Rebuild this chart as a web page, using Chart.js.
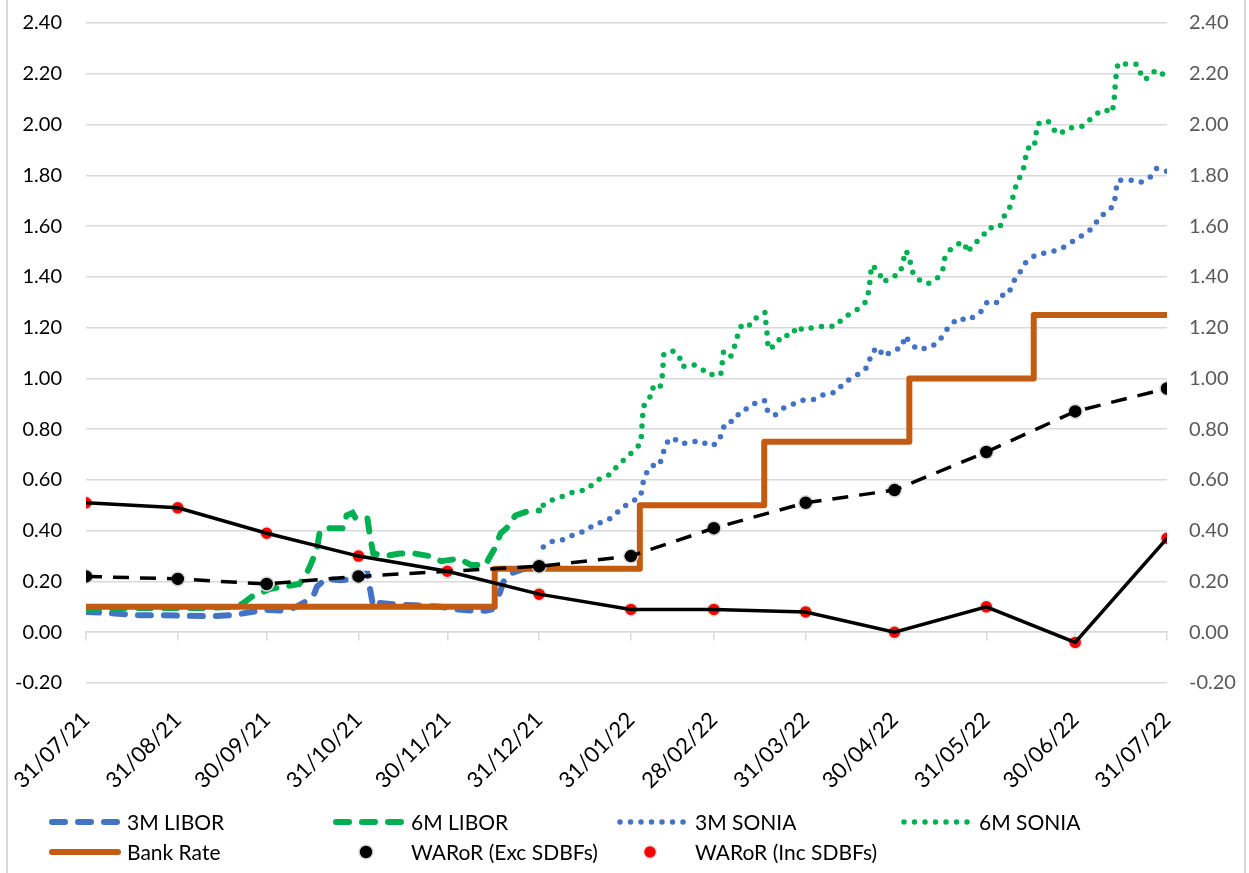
<!DOCTYPE html>
<html>
<head>
<meta charset="utf-8">
<title>Rates</title>
<script src="https://cdn.jsdelivr.net/npm/chart.js@4.4.1/dist/chart.umd.min.js"></script>
<style>
  html, body { margin: 0; padding: 0; background: #fff; }
  #wrap { position: relative; width: 1249px; height: 873px; }
  #frame {
    position: absolute; left: 6px; top: 0; width: 1240px; height: 873px;
    border-left: 2px solid #d9d9d9; border-right: 2px solid #d9d9d9;
    box-sizing: border-box; pointer-events: none;
  }
</style>
</head>
<body>
<div id="wrap">
  <canvas id="rateChart" width="1249" height="873"></canvas>
  <div id="frame"></div>
</div>
<script>
// x values are days counted from 31/07/21
const monthEndDays = [0, 31, 61, 92, 122, 153, 184, 212, 243, 273, 304, 334, 365];
const monthLabels = ["31/07/21", "31/08/21", "30/09/21", "31/10/21", "30/11/21", "31/12/21",
  "31/01/22", "28/02/22", "31/03/22", "30/04/22", "31/05/22", "30/06/22", "31/07/22"];

const libor3mDays = [0, 8, 14, 18, 25, 33, 42, 50, 57, 61, 67, 71, 74, 77, 78, 81, 86, 91, 93, 95,
  97, 99, 104, 111, 120, 125, 130, 135, 137, 139, 141, 143, 148, 153];
const libor3mRates = [0.08, 0.075, 0.07, 0.067, 0.067, 0.065, 0.063, 0.068, 0.082, 0.088,
  0.085, 0.10, 0.12, 0.15, 0.18, 0.21, 0.205, 0.21, 0.23, 0.23,
  0.10, 0.115, 0.11, 0.106, 0.10, 0.09, 0.085, 0.085, 0.09, 0.13, 0.20, 0.23, 0.25, 0.25];

const libor6mDays = [0, 11, 25, 38, 50, 53, 56, 62, 67, 72, 74, 76, 78, 79, 82, 87, 88, 90, 91, 95,
  96, 97, 101, 106, 111, 116, 120, 123, 126, 130, 135, 136, 138, 140, 142, 145, 150, 153];
const libor6mRates = [0.09, 0.095, 0.095, 0.095, 0.10, 0.114, 0.14, 0.17, 0.18, 0.19,
  0.22, 0.27, 0.33, 0.40, 0.41, 0.41, 0.46, 0.47, 0.45, 0.45,
  0.37, 0.31, 0.30, 0.31, 0.31, 0.30, 0.28, 0.285, 0.29, 0.265,
  0.265, 0.29, 0.33, 0.39, 0.41, 0.46, 0.48, 0.48];

const sonia3mDays = [154.4, 157.6, 161.4, 164.9, 168.8, 171.8, 175.0, 178.3, 180.9, 184.0,
  187.3, 188.0, 189.0, 191.0, 193.5, 194.7, 195.7, 198.0, 201.0, 204.5,
  207.4, 210.7, 213.3, 214.8, 215.7, 218.9, 221.1, 223.9, 226.6, 229.3,
  230.3, 232.7, 235.9, 239.4, 241.8, 246.0, 249.5, 253.4, 255.9, 259.0,
  262.0, 264.3, 265.0, 267.3, 269.4, 272.3, 275.5, 276.5, 278.2, 280.7,
  284.6, 287.9, 289.9, 292.4, 295.2, 297.0, 299.6, 302.3, 304.4, 308.1,
  309.9, 311.6, 313.2, 315.3, 317.0, 318.9, 321.0, 324.5, 328.2, 331.4,
  334.3, 337.4, 340.2, 342.2, 345.3, 347.3, 347.6, 348.6, 352.6, 355.9,
  359.1, 361.5, 365.0];
const sonia3mRates = [0.336, 0.359, 0.365, 0.386, 0.399, 0.427, 0.435, 0.457, 0.491, 0.511,
  0.536, 0.585, 0.623, 0.657, 0.655, 0.697, 0.742, 0.767, 0.742, 0.75,
  0.754, 0.733, 0.745, 0.786, 0.824, 0.833, 0.874, 0.882, 0.909, 0.912,
  0.864, 0.856, 0.886, 0.901, 0.914, 0.917, 0.939, 0.946, 0.983, 1.004,
  1.025, 1.051, 1.098, 1.123, 1.086, 1.109, 1.122, 1.168, 1.143, 1.114,
  1.12, 1.143, 1.182, 1.217, 1.239, 1.227, 1.241, 1.265, 1.303, 1.298,
  1.335, 1.337, 1.382, 1.417, 1.453, 1.473, 1.488, 1.496, 1.505, 1.525,
  1.549, 1.57, 1.596, 1.637, 1.659, 1.689, 1.737, 1.781, 1.781, 1.771,
  1.789, 1.827, 1.816];

const sonia6mDays = [154.4, 157.2, 161.1, 164.9, 168.8, 171.8, 174.1, 177.5, 179.7, 182.5,
  185.0, 187.4, 187.6, 187.9, 188.2, 190.2, 191.1, 193.6, 194.5, 194.8,
  195.1, 198.1, 200.2, 201.2, 205.0, 207.5, 210.2, 212.7, 214.3, 214.8,
  215.3, 217.8, 219.1, 220.2, 221.6, 224.6, 226.6, 229.3, 229.6, 230.1,
  230.3, 233.2, 234.7, 238.4, 240.0, 242.1, 246.0, 249.6, 253.2, 255.7,
  259.0, 261.6, 263.4, 264.4, 264.8, 265.3, 267.6, 269.1, 271.8, 274.9,
  275.8, 276.9, 278.1, 278.8, 280.7, 284.0, 287.3, 289.3, 290.0, 292.1,
  295.2, 296.7, 297.5, 299.8, 302.5, 304.5, 308.6, 309.7, 311.2, 312.6,
  313.5, 314.9, 316.4, 317.1, 318.1, 320.1, 320.7, 321.2, 324.8, 326.1,
  328.7, 331.5, 333.9, 336.7, 339.4, 340.9, 344.1, 346.1, 347.0, 347.3,
  347.6, 348.0, 348.6, 351.9, 354.8, 355.8, 357.6, 360.2, 362.5, 364.6];
const sonia6mRates = [0.50, 0.52, 0.536, 0.554, 0.56, 0.59, 0.61, 0.624, 0.662, 0.686,
  0.717, 0.745, 0.793, 0.84, 0.89, 0.916, 0.963, 0.955, 1.0, 1.048,
  1.097, 1.107, 1.093, 1.047, 1.054, 1.042, 1.014, 1.017, 1.014, 1.06,
  1.109, 1.088, 1.13, 1.176, 1.216, 1.209, 1.243, 1.26, 1.211, 1.164,
  1.115, 1.132, 1.169, 1.169, 1.206, 1.19, 1.202, 1.205, 1.205, 1.24,
  1.26, 1.281, 1.303, 1.349, 1.398, 1.446, 1.423, 1.378, 1.398, 1.413,
  1.458, 1.504, 1.471, 1.424, 1.392, 1.371, 1.392, 1.428, 1.475, 1.512,
  1.534, 1.534, 1.495, 1.53, 1.554, 1.593, 1.596, 1.636, 1.653, 1.695,
  1.742, 1.784, 1.816, 1.864, 1.908, 1.907, 1.955, 2.002, 2.015, 1.986,
  1.961, 1.987, 1.987, 1.994, 2.024, 2.041, 2.06, 2.045, 2.074, 2.121,
  2.169, 2.217, 2.243, 2.237, 2.238, 2.208, 2.175, 2.207, 2.214, 2.181];

// bank rate changes: 16/12/21, 03/02/22, 17/03/22, 05/05/22, 16/06/22
const bankRateDays = [0, 138, 187, 229, 278, 320, 365];
const bankRates = [0.10, 0.25, 0.50, 0.75, 1.00, 1.25, 1.25];

const warorExc = [0.22, 0.21, 0.19, 0.22, 0.24, 0.26, 0.30, 0.41, 0.51, 0.56, 0.71, 0.87, 0.96];
const warorInc = [0.51, 0.49, 0.39, 0.30, 0.24, 0.15, 0.09, 0.09, 0.08, 0.00, 0.10, -0.04, 0.37];

const legendOrder = ["3M LIBOR", "6M LIBOR", "3M SONIA", "6M SONIA", "Bank Rate",
  "WARoR (Exc SDBFs)", "WARoR (Inc SDBFs)"];

const toPoints = (days, rates) => days.map((d, i) => ({ x: d, y: rates[i] }));

Chart.defaults.font.family = "Lato";
Chart.defaults.font.size = 20;
Chart.defaults.color = "#000";

const setMonthTicks = (scale) => {
  scale.ticks = monthEndDays.map((v) => ({ value: v }));
};

// fixed axis sizes; drop the label overhang padding so the plot area lines up
const fixSize = (size) => (scale) => {
  if (scale.isHorizontal()) scale.height = size;
  else scale.width = size;
  scale.paddingTop = 0;
  scale.paddingBottom = 0;
  scale.paddingLeft = 0;
  scale.paddingRight = 0;
};

// legend laid out on a 4 column grid like the original
const gridLegend = {
  id: "gridLegend",
  afterDraw(chart) {
    const ctx = chart.ctx;
    ctx.save();
    ctx.font = "21px Lato";
    ctx.textBaseline = "middle";
    legendOrder.forEach((label, i) => {
      const ds = chart.data.datasets.find((d) => d.label === label);
      const x = 49 + (i % 4) * 284;
      const y = 822 + Math.floor(i / 4) * 30;
      if (ds.showLine === false) {
        ctx.beginPath();
        ctx.arc(x + 33, y, ds.pointRadius, 0, Math.PI * 2);
        ctx.fillStyle = ds.pointBackgroundColor;
        ctx.fill();
        ctx.lineWidth = ds.pointBorderWidth;
        ctx.strokeStyle = ds.pointBorderColor;
        ctx.stroke();
      } else {
        ctx.beginPath();
        ctx.setLineDash(ds.borderDash || []);
        ctx.lineCap = ds.borderCapStyle || "butt";
        ctx.lineWidth = ds.borderWidth;
        ctx.strokeStyle = ds.borderColor;
        ctx.moveTo(x + 3, y);
        ctx.lineTo(x + 69, y);
        ctx.stroke();
        ctx.setLineDash([]);
      }
      ctx.fillStyle = "#000";
      ctx.fillText(label, x + 78, y + 1);
    });
    ctx.restore();
  },
};

const lineBase = { pointRadius: 0, tension: 0, fill: false };

new Chart(document.getElementById("rateChart"), {
  type: "line",
  data: {
    datasets: [
      {
        ...lineBase,
        label: "3M LIBOR",
        data: toPoints(libor3mDays, libor3mRates),
        borderColor: "#4472c4",
        borderWidth: 6,
        borderDash: [13, 13],
        borderCapStyle: "round",
        order: 9,
      },
      {
        ...lineBase,
        label: "6M LIBOR",
        data: toPoints(libor6mDays, libor6mRates),
        borderColor: "#00b050",
        borderWidth: 6,
        borderDash: [13, 13],
        borderCapStyle: "round",
        order: 8,
      },
      {
        ...lineBase,
        label: "3M SONIA",
        data: toPoints(sonia3mDays, sonia3mRates),
        borderColor: "#4472c4",
        borderWidth: 5.5,
        borderDash: [0, 10.5],
        borderCapStyle: "round",
        order: 7,
      },
      {
        ...lineBase,
        label: "6M SONIA",
        data: toPoints(sonia6mDays, sonia6mRates),
        borderColor: "#00b050",
        borderWidth: 5.5,
        borderDash: [0, 10.5],
        borderCapStyle: "round",
        order: 6,
      },
      {
        ...lineBase,
        label: "Bank Rate",
        data: toPoints(bankRateDays, bankRates),
        borderColor: "#c55a11",
        borderWidth: 6,
        borderCapStyle: "round",
        borderJoinStyle: "round",
        stepped: "before",
        order: 5,
      },
      {
        label: "WARoR (Exc SDBFs)",
        data: toPoints(monthEndDays, warorExc),
        showLine: false,
        pointRadius: 7,
        pointBackgroundColor: "#000",
        pointBorderColor: "#d9d9d9",
        pointBorderWidth: 1.5,
        order: 4,
      },
      {
        label: "WARoR (Inc SDBFs)",
        data: toPoints(monthEndDays, warorInc),
        showLine: false,
        pointRadius: 6.5,
        pointBackgroundColor: "#ff0000",
        pointBorderColor: "#e6e6e6",
        pointBorderWidth: 1.5,
        order: 3,
      },
      {
        ...lineBase,
        label: "WARoR Exc trend",
        data: toPoints(monthEndDays, warorExc),
        borderColor: "#000",
        borderWidth: 3.5,
        borderDash: [16, 11],
        order: 2,
      },
      {
        ...lineBase,
        label: "WARoR Inc trend",
        data: toPoints(monthEndDays, warorInc),
        borderColor: "#000",
        borderWidth: 3.5,
        order: 1,
      },
    ],
  },
  options: {
    responsive: false,
    animation: false,
    devicePixelRatio: 1,
    layout: { autoPadding: false, padding: { top: 23, left: 0, right: 0, bottom: 0 } },
    plugins: {
      legend: { display: false },
      tooltip: { enabled: false },
    },
    scales: {
      x: {
        type: "linear",
        position: "bottom",
        min: 0,
        max: 365,
        afterBuildTicks: setMonthTicks,
        afterFit: fixSize(190),
        grid: { display: false, drawTicks: false },
        border: { display: false },
        ticks: {
          autoSkip: false,
          minRotation: 45,
          maxRotation: 45,
          padding: 24,
          font: { size: 22 },
          callback: (value, index) => monthLabels[index],
        },
      },
      // only draws the small tick marks on the 0.00 line
      xZero: {
        type: "linear",
        axis: "x",
        position: { y: 0 },
        min: 0,
        max: 365,
        afterBuildTicks: setMonthTicks,
        afterFit: fixSize(0),
        grid: { drawOnChartArea: false, tickLength: 8, color: "#d9d9d9", lineWidth: 1.5 },
        border: { color: "#d9d9d9", width: 1.5 },
        ticks: { display: false },
      },
      y: {
        position: "left",
        min: -0.2,
        max: 2.4,
        afterFit: fixSize(86),
        grid: { color: "#d9d9d9", lineWidth: 1.5, drawTicks: false },
        border: { display: false },
        ticks: {
          stepSize: 0.2,
          padding: 24,
          color: "#000",
          callback: (v) => v.toFixed(2),
        },
      },
      y2: {
        position: "right",
        min: -0.2,
        max: 2.4,
        afterFit: fixSize(82),
        grid: { drawOnChartArea: false, drawTicks: false },
        border: { display: false },
        ticks: {
          stepSize: 0.2,
          padding: 22,
          color: "#595959",
          callback: (v) => v.toFixed(2),
        },
      },
    },
  },
  plugins: [gridLegend],
});
</script>
</body>
</html>
